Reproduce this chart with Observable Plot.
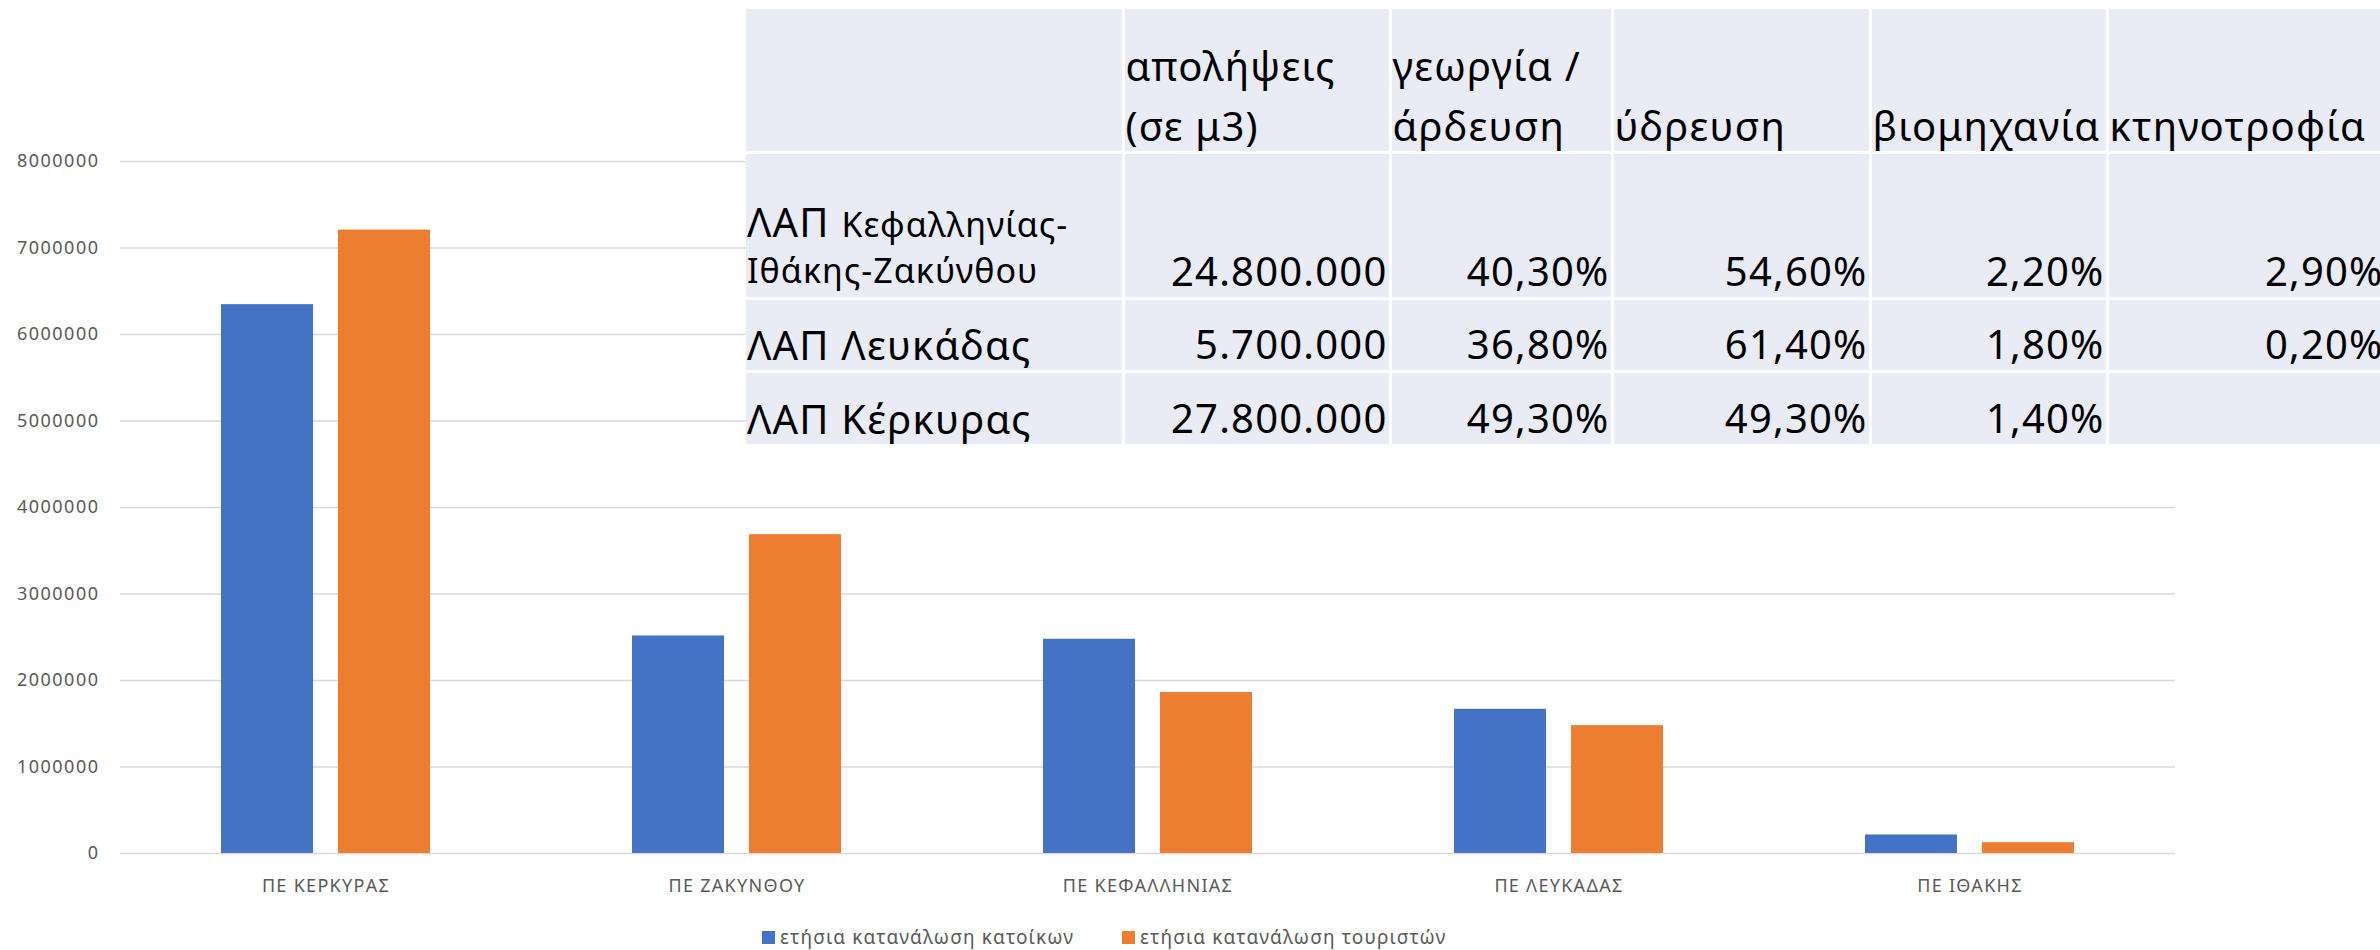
<!DOCTYPE html>
<html>
<head>
<meta charset="utf-8">
<script src="https://cdn.jsdelivr.net/npm/d3@7"></script>
<script src="https://cdn.jsdelivr.net/npm/@observablehq/plot@0.6"></script>
<style>
  html, body { margin: 0; padding: 0; background: #fff; }
  body { width: 2380px; height: 950px; overflow: hidden; position: relative; font-family: "Noto Sans", sans-serif; }
  #chart { position: absolute; left: 0; top: 0; }
  g[aria-label="y-axis tick label"] text { letter-spacing: 1.5px; }
  g[aria-label="fx-axis tick label"] text { letter-spacing: 1.3px; }
  #legend { position: absolute; left: 0; top: 924px; width: 2380px; height: 26px;
            font-size: 19px; color: #595959; letter-spacing: 1.15px; white-space: nowrap; }
  #legend .item { position: absolute; top: 0; height: 26px; display: flex; align-items: center; }
  #legend .sw { width: 13px; height: 13px; margin-right: 5px; }
  #tbl { position: absolute; left: 746px; top: 9px; display: grid;
         grid-template-columns: 375.5px 264px 219px 255px 234px 276px;
         grid-template-rows: 141.5px 143px 70px 71.5px;
         gap: 3px; background: #fff; color: #000; }
  #tbl .cell { background: #E9EBF5; display: flex; flex-direction: column; justify-content: flex-end;
               padding: 0 1px 0 1px; font-size: 40px; letter-spacing: 1.2px; white-space: nowrap; overflow: visible; }
  #tbl .cell.num { text-align: right; padding-bottom: 1px; }
  #tbl .line { line-height: 50px; height: 50px; }
  #tbl .hdr .line:first-child:not(:last-child) { margin-bottom: 10px; }
  #tbl .lab2 { padding-bottom: 3px; }
  #tbl .lab2 .line { line-height: 47px; height: 47px; }
  #tbl .lab2 .line.first { line-height: 50px; height: 50px; }
  #tbl .small1 { font-size: 34px; letter-spacing: 1px; }
  #tbl .small2 { font-size: 34px; letter-spacing: 1px; }
</style>
</head>
<body>
<div id="chart"></div>
<div id="tbl"></div>
<div id="legend"></div>
<script>
// ---- chart data ----
const categories = ["ΠΕ ΚΕΡΚΥΡΑΣ", "ΠΕ ΖΑΚΥΝΘΟΥ", "ΠΕ ΚΕΦΑΛΛΗΝΙΑΣ", "ΠΕ ΛΕΥΚΑΔΑΣ", "ΠΕ ΙΘΑΚΗΣ"];
const seriesNames = ["ετήσια κατανάλωση κατοίκων", "ετήσια κατανάλωση τουριστών"];
const residents = [6345000, 2515000, 2477000, 1667000, 214000];
const tourists = [7207000, 3686000, 1861000, 1478000, 125000];
const yTicks = [0, 1000000, 2000000, 3000000, 4000000, 5000000, 6000000, 7000000, 8000000];
const seriesColors = ["#4472C4", "#ED7D31"];

// ---- overlay table data ----
const tableHeaders = ["", "απολήψεις\n(σε μ3)", "γεωργία /\nάρδευση", "ύδρευση", "βιομηχανία", "κτηνοτροφία"];
const tableRegions = ["ΛΑΠ Κεφαλληνίας-\nΙθάκης-Ζακύνθου", "ΛΑΠ Λευκάδας", "ΛΑΠ Κέρκυρας"];
const abstractions = ["24.800.000", "5.700.000", "27.800.000"];
const irrigation = ["40,30%", "36,80%", "49,30%"];
const waterSupply = ["54,60%", "61,40%", "49,30%"];
const industry = ["2,20%", "1,80%", "1,40%"];
const livestock = ["2,90%", "0,20%", ""];

// layout constants (legend item left edges, px)
const legendLefts = [762, 1122];

const data = categories.flatMap((c, i) => [
  {cat: c, series: seriesNames[0], value: residents[i]},
  {cat: c, series: seriesNames[1], value: tourists[i]}
]);

const chart = Plot.plot({
  width: 2380,
  height: 910,
  marginLeft: 120,
  marginRight: 205,
  marginTop: 161,
  marginBottom: 57,
  style: {fontFamily: "Noto Sans", fontSize: "18px", color: "#595959", background: "transparent", overflow: "visible"},
  fx: {domain: categories, padding: 0, label: null, axis: "bottom", tickSize: 0, tickPadding: 26},
  x: {domain: seriesNames, axis: null, paddingInner: 0.216, paddingOuter: 0.86},
  y: {domain: [0, 8000000], ticks: yTicks, tickFormat: d => String(d), tickSize: 0, tickPadding: 21, label: null},
  color: {domain: seriesNames, range: seriesColors},
  marks: [
    Plot.gridY(yTicks, {stroke: "#D9D9D9", strokeOpacity: 1, strokeWidth: 1.5}),
    Plot.barY(data, {fx: "cat", x: "series", y: "value", fill: "series"})
  ]
});
document.getElementById("chart").appendChild(chart);

// ---- legend ----
const legend = document.getElementById("legend");
seriesNames.forEach((s, i) => {
  const it = document.createElement("div");
  it.className = "item";
  it.style.left = legendLefts[i] + "px";
  const sw = document.createElement("span");
  sw.className = "sw";
  sw.style.background = seriesColors[i];
  const tx = document.createElement("span");
  tx.textContent = s;
  it.appendChild(sw); it.appendChild(tx);
  legend.appendChild(it);
});

// ---- table ----
const tbl = document.getElementById("tbl");
function addCell(text, cls) {
  const c = document.createElement("div");
  c.className = "cell " + (cls || "");
  text.split("\n").forEach(l => {
    const d = document.createElement("div");
    d.className = "line";
    d.textContent = l;
    c.appendChild(d);
  });
  tbl.appendChild(c);
  return c;
}
tableHeaders.forEach(h => addCell(h, "hdr"));
const cols = [abstractions, irrigation, waterSupply, industry, livestock];
tableRegions.forEach((r, i) => {
  const lines = r.split("\n");
  if (lines.length > 1) {
    const c = document.createElement("div");
    c.className = "cell lab2";
    lines.forEach((l, j) => {
      const d = document.createElement("div");
      if (j === 0 && l.startsWith("ΛΑΠ ")) {
        d.className = "line first";
        const a = document.createElement("span");
        a.textContent = "ΛΑΠ ";
        const b = document.createElement("span");
        b.className = "small1";
        b.textContent = l.slice(4);
        d.appendChild(a); d.appendChild(b);
      } else {
        d.className = "line small2";
        d.textContent = l;
      }
      c.appendChild(d);
    });
    tbl.appendChild(c);
  } else {
    addCell(r, "");
  }
  cols.forEach(col => addCell(col[i], "num"));
});
</script>
</body>
</html>
